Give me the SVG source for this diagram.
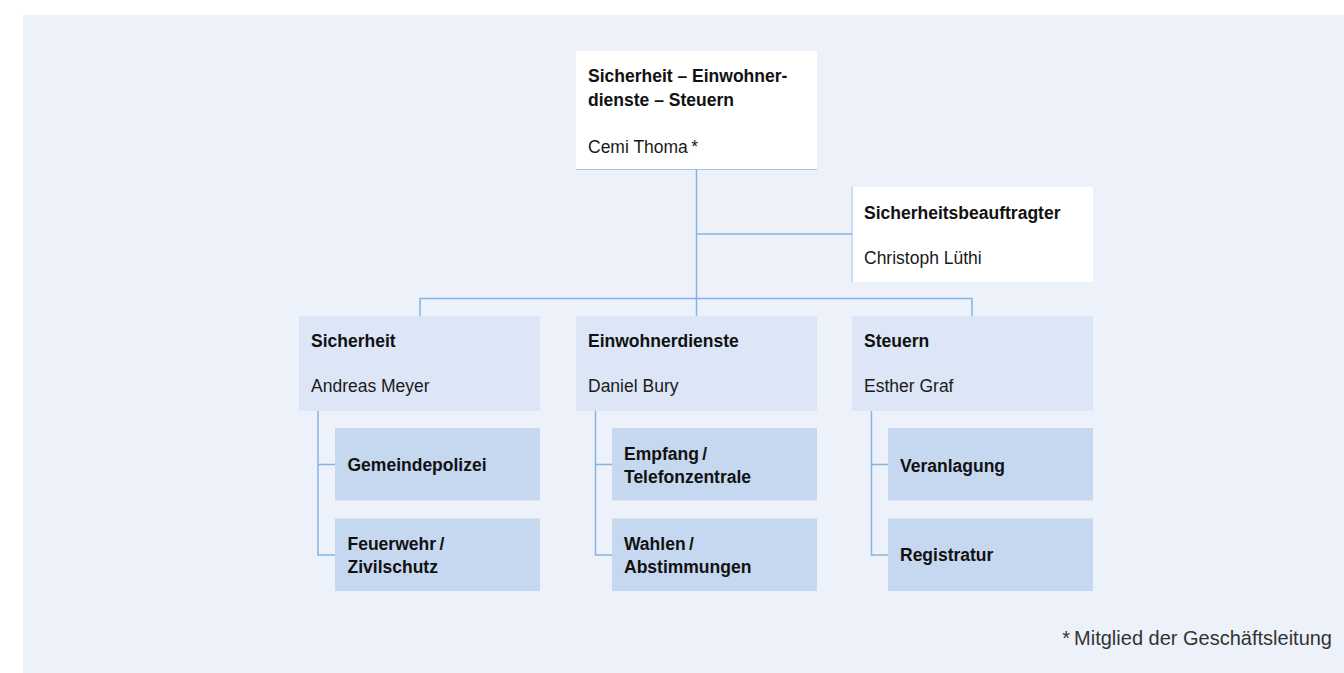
<svg xmlns="http://www.w3.org/2000/svg" width="1344" height="673" viewBox="0 0 1344 673">
<style>
.bg{fill:#EDF2FA}
.top{fill:#FFFFFF}
.l2{fill:#DCE6F6}
.l3{fill:#C6D7F0}
.ln{stroke:#85B4E2;stroke-width:1.5;fill:none}
text{font-family:"Liberation Sans",Arial,sans-serif;font-size:17.5px;fill:#1a1a1a}
.b{font-weight:bold;fill:#111}
.fn{font-size:20px;fill:#333}
</style>
<rect class="bg" x="23" y="15" width="1321" height="658"/>
<g id="connectors">
<path class="ln" d="M576,169 H817"/>
<path class="ln" d="M696.5,169 V316"/>
<path class="ln" d="M696.5,234 H852.5"/>
<path class="ln" d="M852.5,187 V282"/>
<path class="ln" d="M420,316 V298.5 H972 V316"/>
<path class="ln" d="M318,411 V555 H335 M318,464.5 H335"/>
<path class="ln" d="M595.5,411 V555 H612 M595.5,464.5 H612"/>
<path class="ln" d="M871.5,411 V555 H888 M871.5,464.5 H888"/>
</g>
<g id="n-top">
<rect class="top" x="576" y="51" width="241" height="118"/>
<text class="b" x="588" y="82">Sicherheit – Einwohner-</text>
<text class="b" x="588" y="106">dienste – Steuern</text>
<text x="588" y="153">Cemi Thoma&#8201;*</text>
</g>
<g id="n-beauftragter">
<rect class="top" x="852.5" y="187" width="240.5" height="95"/>
<text class="b" x="864" y="219">Sicherheitsbeauftragter</text>
<text x="864" y="264">Christoph Lüthi</text>
</g>
<g id="n-sicherheit">
<rect class="l2" x="299" y="316" width="241" height="95"/>
<text class="b" x="311" y="347">Sicherheit</text>
<text x="311" y="392">Andreas Meyer</text>
</g>
<g id="n-einwohnerdienste">
<rect class="l2" x="576" y="316" width="241" height="95"/>
<text class="b" x="588" y="347">Einwohnerdienste</text>
<text x="588" y="392">Daniel Bury</text>
</g>
<g id="n-steuern">
<rect class="l2" x="852" y="316" width="241" height="95"/>
<text class="b" x="864" y="347">Steuern</text>
<text x="864" y="392">Esther Graf</text>
</g>
<g id="n-gemeindepolizei">
<rect class="l3" x="335" y="428" width="205" height="72.5"/>
<text class="b" x="347.5" y="471">Gemeindepolizei</text>
</g>
<g id="n-feuerwehr">
<rect class="l3" x="335" y="518.5" width="205" height="72.5"/>
<text class="b" x="347.5" y="549.5">Feuerwehr&#8201;/</text>
<text class="b" x="347.5" y="573">Zivilschutz</text>
</g>
<g id="n-empfang">
<rect class="l3" x="612" y="428" width="205" height="72.5"/>
<text class="b" x="624" y="460">Empfang&#8201;/</text>
<text class="b" x="624" y="483">Telefonzentrale</text>
</g>
<g id="n-wahlen">
<rect class="l3" x="612" y="518.5" width="205" height="72.5"/>
<text class="b" x="624" y="550">Wahlen&#8201;/</text>
<text class="b" x="624" y="573">Abstimmungen</text>
</g>
<g id="n-veranlagung">
<rect class="l3" x="888" y="428" width="205" height="72.5"/>
<text class="b" x="900" y="471.5">Veranlagung</text>
</g>
<g id="n-registratur">
<rect class="l3" x="888" y="518.5" width="205" height="72.5"/>
<text class="b" x="900" y="561">Registratur</text>
</g>
<text class="fn" x="1332" y="645" text-anchor="end">*&#8201;Mitglied der Geschäftsleitung</text>
</svg>
